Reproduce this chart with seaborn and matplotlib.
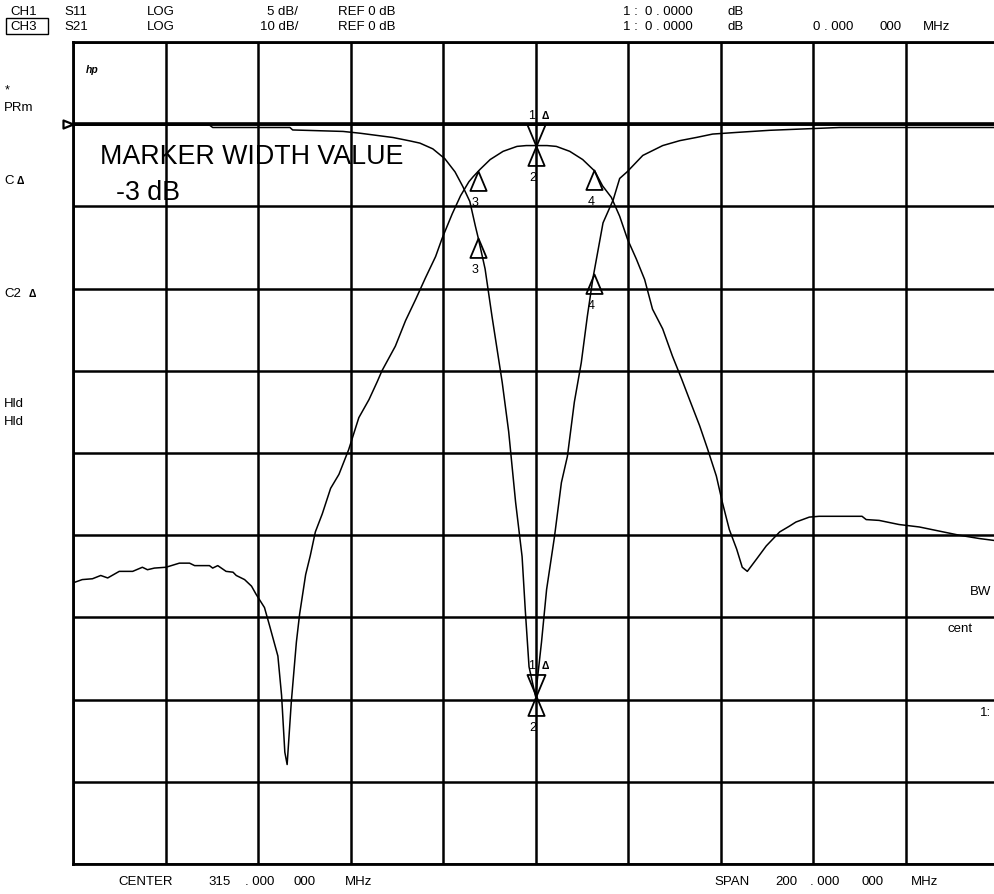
import numpy as np
import pandas as pd
import matplotlib
matplotlib.use("Agg")
import matplotlib.pyplot as plt
import seaborn as sns
from matplotlib.path import Path
from matplotlib.patches import Rectangle

# ---------------- data ----------------
center_mhz = 315.0
span_mhz = 200.0
s11_scale = 5.0    # dB / division
s21_scale = 10.0   # dB / division

s21_freq = [215.0, 217.0, 219.2, 221.0, 222.5, 225.0, 227.9, 230.0, 231.1, 232.6,
            235.1, 238.0, 240.2, 241.3, 244.5, 245.2, 246.3, 248.1, 249.6, 250.3,
            252.1, 253.6, 254.6, 256.4, 257.5, 259.3, 260.1, 260.8, 261.3, 262.2,
            263.3, 264.0, 265.3, 266.3, 267.4, 268.9, 270.7, 272.5, 274.6, 276.8,
            279.0, 280.8, 281.8, 284.7, 286.9, 289.1, 291.2, 293.4, 294.8, 297.0,
            298.8, 300.6, 301.5, 303.0, 305.2, 308.0, 311.0, 313.0, 315.0, 317.5,
            319.5, 322.4, 325.2, 327.8, 329.5, 331.4, 333.2, 334.9, 336.8, 338.6,
            340.3, 342.5, 344.6, 346.6, 348.3, 350.5, 352.2, 354.1, 355.4, 356.9,
            358.5, 359.7, 360.8, 362.8, 364.9, 367.8, 369.9, 371.3, 374.2, 376.3,
            385.6, 386.5, 389.3, 393.6, 398.0, 402.3, 406.6, 410.9, 415.0]
s21_db = [-55.8, -55.4, -55.3, -54.9, -55.2, -54.4, -54.4, -53.9, -54.2, -54.0,
          -53.9, -53.4, -53.4, -53.7, -53.7, -54.0, -53.7, -54.4, -54.5, -54.9,
          -55.4, -56.2, -57.2, -58.8, -61.0, -64.7, -69.5, -76.4, -77.9, -70.3,
          -63.0, -59.6, -54.8, -52.5, -49.6, -47.4, -44.3, -42.6, -39.6, -35.7,
          -33.5, -31.3, -30.0, -27.0, -23.9, -21.3, -18.7, -16.1, -13.9, -10.9,
          -8.7, -7.0, -6.4, -5.5, -4.3, -3.3, -2.7, -2.6, -2.6, -2.6,
          -2.7, -3.3, -4.3, -5.7, -7.5, -8.9, -11.2, -14.0, -16.4, -18.9,
          -22.5, -24.9, -28.2, -31.0, -33.5, -36.7, -39.5, -42.8, -46.0, -49.3,
          -51.7, -53.9, -54.4, -52.9, -51.3, -49.6, -48.9, -48.4, -47.8, -47.7,
          -47.7, -48.1, -48.2, -48.7, -49.0, -49.5, -50.0, -50.4, -50.7]

s11_freq = [215.0, 244.5, 245.2, 261.9, 262.5, 273.4, 277.1, 284.2, 287.9, 290.0,
            292.8, 295.4, 297.6, 299.3, 300.8, 302.0, 302.6, 304.1, 305.6, 307.8,
            309.2, 310.7, 312.1, 312.8, 313.6, 315.0, 316.3, 317.4, 319.1, 320.6,
            321.9, 323.4, 324.9, 326.2, 327.4, 329.6, 331.8, 333.2, 334.8, 338.2,
            342.5, 346.2, 349.9, 353.3, 358.5, 365.7, 380.8, 415.0]
s11_db = [-0.05, -0.05, -0.2, -0.2, -0.35, -0.44, -0.55, -0.81, -1.02, -1.15,
          -1.5, -2.1, -2.9, -3.8, -4.7, -6.2, -6.9, -8.8, -11.7, -15.7,
          -18.7, -23.0, -26.3, -29.6, -33.0, -34.8, -31.5, -28.3, -25.1, -21.8,
          -20.2, -16.9, -14.5, -11.7, -9.4, -6.0, -4.6, -3.3, -2.9, -1.9,
          -1.3, -1.0, -0.8, -0.6, -0.5, -0.37, -0.2, -0.2]

marker_ids = ["1", "2", "3", "4"]
marker_freq = [315.0, 315.0, 302.6, 327.6]

# ---------------- style ----------------
sns.set_style("white")
plt.rcParams["font.family"] = ["Liberation Sans", "DejaVu Sans"]
plt.rcParams["text.color"] = "black"

W, H = 994, 895
fig = plt.figure(figsize=(W / 100, H / 100), dpi=100)
ax = fig.add_axes([73 / W, 30 / H, 925 / W, 822 / H])

df = pd.concat([
    pd.DataFrame({"freq": s21_freq, "div": np.array(s21_db) / s21_scale, "trace": "S21"}),
    pd.DataFrame({"freq": s11_freq, "div": np.array(s11_db) / s11_scale, "trace": "S11"}),
])
sns.lineplot(data=df, x="freq", y="div", units="trace", estimator=None,
             color="black", lw=1.1, legend=False, sort=False, ax=ax, zorder=3)

f0 = center_mhz - span_mhz / 2
f1 = center_mhz + span_mhz / 2
ax.set_xlim(f0, f1)
ax.set_ylim(-9, 1)
ax.set_xticks(np.linspace(f0, f1, 11))
ax.set_yticks(np.arange(-9, 2, 1))
ax.grid(True, color="black", lw=1.8)
ax.set_axisbelow(True)
ax.tick_params(length=0, labelbottom=False, labelleft=False)
ax.set_xlabel("")
ax.set_ylabel("")
for sp in ax.spines.values():
    sp.set_color("black")
    sp.set_linewidth(2.0)
ax.axhline(0, color="black", lw=2.6, zorder=2)

# reference position indicator (left)
ref_tri = Path([(0, 0), (-1, 0.4), (-1, -0.4), (0, 0)],
               [Path.MOVETO, Path.LINETO, Path.LINETO, Path.CLOSEPOLY])
ax.plot([f0], [0], marker=ref_tri, ms=14.4, mfc="white", mec="black", mew=1.6,
        clip_on=False, zorder=5)

# ---------------- markers ----------------
up_tri = Path([(0, 0), (-0.42, -1), (0.42, -1), (0, 0)],
              [Path.MOVETO, Path.LINETO, Path.LINETO, Path.CLOSEPOLY])
dn_tri = Path([(0, 0), (-0.42, 1), (0.42, 1), (0, 0)],
              [Path.MOVETO, Path.LINETO, Path.LINETO, Path.CLOSEPOLY])

traces = [(s21_freq, s21_db, s21_scale), (s11_freq, s11_db, s11_scale)]
for fr, db, sc in traces:
    for mid, mf in zip(marker_ids, marker_freq):
        yv = np.interp(mf, fr, db) / sc
        if mid == "1":
            ax.plot([mf], [yv], marker=dn_tri, ms=31, mfc="none", mec="black",
                    mew=1.3, zorder=6)
            ax.annotate("1", (mf, yv), xytext=(-4, 31), textcoords="offset pixels",
                        ha="center", va="center", fontsize=9)
            ax.annotate("Δ", (mf, yv), xytext=(10, 31), textcoords="offset pixels",
                        ha="center", va="center", fontsize=7.5, fontweight="bold")
        else:
            ax.plot([mf], [yv], marker=up_tri, ms=28, mfc="none", mec="black",
                    mew=1.3, zorder=6)
            ax.annotate(mid, (mf, yv), xytext=(-3, -31), textcoords="offset pixels",
                        ha="center", va="center", fontsize=9)

# ---------------- texts ----------------
def T(x, y, s, **kw):
    kw.setdefault("fontsize", 9.5)
    kw.setdefault("va", "baseline")
    kw.setdefault("ha", "left")
    kw.setdefault("color", "black")
    fig.text(x / W, 1 - y / H, s, **kw)

# header row 1
T(10, 15, "CH1"); T(64, 15, "S11"); T(147, 15, "LOG")
T(298, 15, "5 dB/", ha="right"); T(338, 15, "REF 0 dB")
T(623, 15, "1 :  0 . 0000"); T(727, 15, "dB")
# header row 2
T(10, 30, "CH3"); T(64, 30, "S21"); T(147, 30, "LOG")
T(298, 30, "10 dB/", ha="right"); T(338, 30, "REF 0 dB")
T(623, 30, "1 :  0 . 0000"); T(727, 30, "dB")
T(813, 30, "0 . 000"); T(880, 30, "000"); T(923, 30, "MHz")
fig.add_artist(Rectangle((6 / W, 1 - 35 / H), 42 / W, 16 / H,
                         transform=fig.transFigure, fill=False, lw=1.0, ec="black"))

# left annunciators
T(5, 93, "*", fontsize=9)
T(4, 111, "PRm")
T(4, 184, "C"); T(17, 184, "Δ", fontsize=7.5, fontweight="bold")
T(4, 297, "C2"); T(29, 297, "Δ", fontsize=7.5, fontweight="bold")
T(4, 407, "Hld"); T(4, 425, "Hld")

# hp logo
T(86, 73, "hp", fontsize=7.5, fontstyle="italic", fontweight="bold")

# big annotation
T(100, 164, "MARKER WIDTH VALUE", fontsize=19.3)
T(116, 200, "-3 dB", fontsize=19.3)

# right edge annunciators (kept inside the canvas)
T(991, 595, "BW", ha="right")
T(948, 632, "cent")
T(991, 716, "1:", ha="right")

# bottom
T(118, 885, "CENTER"); T(208, 885, "315"); T(245, 885, ". 000")
T(293, 885, "000"); T(345, 885, "MHz")
T(714, 885, "SPAN"); T(775, 885, "200"); T(810, 885, ". 000")
T(862, 885, "000"); T(911, 885, "MHz")

fig.savefig("out.png", dpi=100)
